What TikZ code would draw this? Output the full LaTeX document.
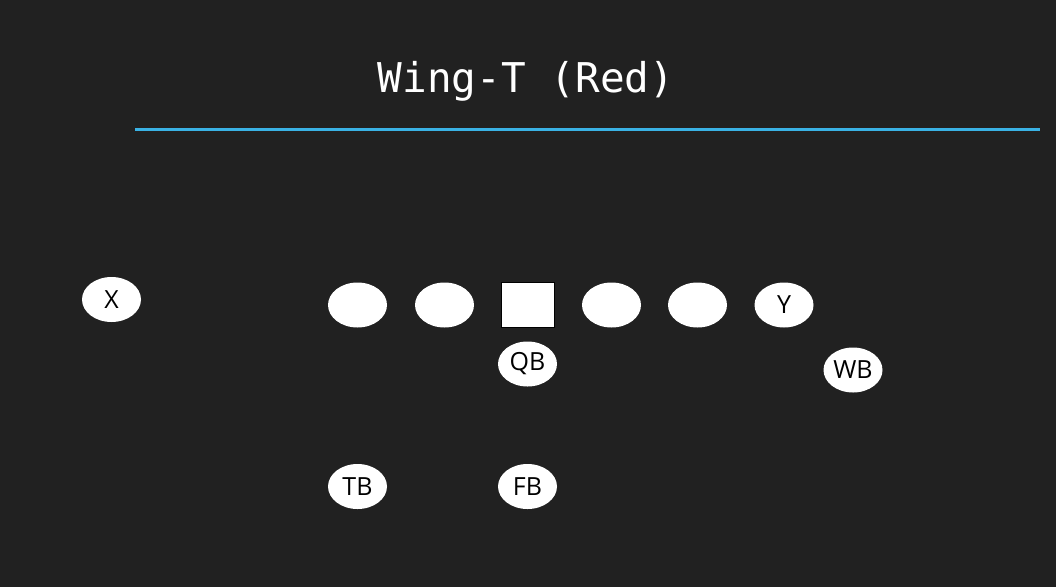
\documentclass[tikz,border=0pt]{standalone}
\usepackage{fontspec}
\setmainfont{Open Sans}
\setmonofont{DejaVu Sans Mono}
\usepackage{xcolor}
\definecolor{board}{RGB}{33,33,33}
\definecolor{chalkblue}{RGB}{58,178,228}

\tikzset{
  player/.style={ellipse, fill=white, minimum width=59pt, minimum height=45pt, inner sep=0pt, font=\fontsize{25}{25}\selectfont, text=black},
  snapper/.style={rectangle, fill=white, draw=black, minimum width=53pt, minimum height=45pt, inner sep=0pt},
}
\usetikzlibrary{shapes.geometric}

\begin{document}
\begin{tikzpicture}[x=1pt, y=-1pt]

% Board
\fill [board] (0,0) rectangle (1056,587);
\useasboundingbox (0,0) rectangle (1056,587);

% Title
\node [text=white, font=\ttfamily\fontsize{41}{41}\selectfont] (title) at (526,81) {Wing-T (Red)};
\coordinate (lineL) at (135,129);
\coordinate (lineR) at (1040,129);
\draw [chalkblue, line width=3pt] (lineL) -- (lineR);

% Line of scrimmage
\node [player] (X) at (111.5,299.5) {X};
\node [player] (LT) at (357.5,305) {};
\node [player] (LG) at (444.5,305) {};
\node [snapper] (C) at (527.5,304.5) {};
\node [player] (RG) at (611.5,305) {};
\node [player] (RT) at (697.5,305) {};
\node [player] (Y) at (784,305) {Y};

% Backfield
\node [player] (QB) at (527.5,364) {QB};
\node [player] (WB) at (853,370) {WB};
\node [player] (TB) at (357.5,486.5) {TB};
\node [player] (FB) at (527.5,486.5) {FB};

\end{tikzpicture}
\end{document}
